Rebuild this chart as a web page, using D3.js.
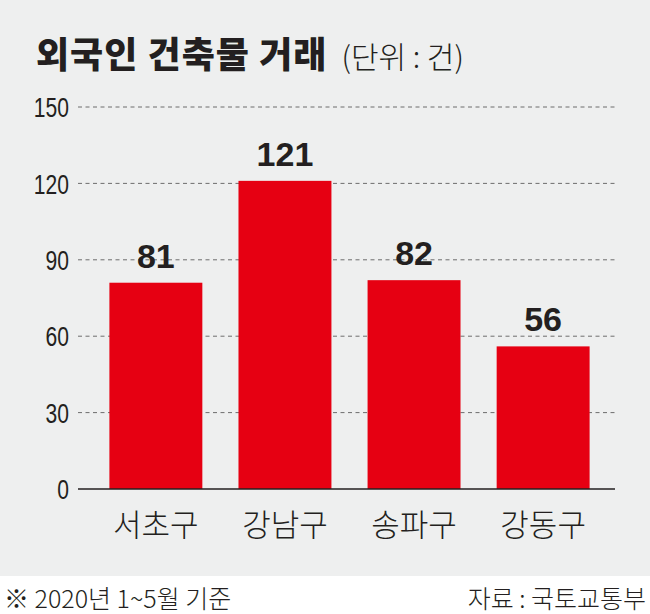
<!DOCTYPE html>
<html>
<head>
<meta charset="utf-8">
<script src="https://cdn.jsdelivr.net/npm/d3@7"></script>
<style>
  body { margin: 0; background: #fff; }
  svg text { font-family: "Liberation Sans", "Noto Sans CJK KR", sans-serif; }
  svg text.kr { font-family: "Noto Sans CJK KR", sans-serif; }
</style>
</head>
<body>
<div id="chart"></div>
<script>
// DATA
const districts = ['서초구', '강남구', '송파구', '강동구'];
const deals = [81, 121, 82, 56];
const yTicks = [0, 30, 60, 90, 120, 150];

// DIMENSIONS
const width = 650, height = 614;
const margin = {top: 107, right: 35, bottom: 125, left: 78};
const squeeze = 0.78; // narrow tick numerals

const svg = d3.select('#chart')
  .append('svg')
  .attr('width', width)
  .attr('height', height);

// GRAY PANEL
svg.append('rect')
  .attr('width', width)
  .attr('height', 576)
  .attr('fill', '#eeefef');

// SCALES
const x = d3.scaleBand()
  .domain(districts)
  .range([margin.left + 3, width - margin.right + 3])
  .paddingInner(0.28)
  .paddingOuter(0.22);

const y = d3.scaleLinear()
  .domain([0, 150])
  .range([height - margin.bottom, margin.top]);

// Y AXIS LABELS
const yAxis = svg.append('g')
  .attr('transform', `translate(${margin.left},0)`)
  .call(d3.axisLeft(y).tickValues(yTicks).tickSize(0).tickPadding(9));
yAxis.select('.domain').remove();
yAxis.selectAll('text')
  .attr('font-size', 27)
  .attr('fill', '#231f20')
  .attr('dy', '0.36em')
  .attr('x', -9 / squeeze)
  .attr('transform', `scale(${squeeze},1)`);

// GRID
svg.append('g')
  .selectAll('line')
  .data(yTicks.filter(d => d > 0))
  .join('line')
  .attr('x1', margin.left)
  .attr('x2', width - margin.right)
  .attr('y1', d => y(d))
  .attr('y2', d => y(d))
  .attr('stroke', '#6d6d6d')
  .attr('stroke-width', 1)
  .attr('stroke-dasharray', '4,3.5');

// BARS
svg.append('g')
  .selectAll('rect')
  .data(deals)
  .join('rect')
  .attr('x', (d, i) => x(districts[i]))
  .attr('y', d => y(d))
  .attr('width', x.bandwidth())
  .attr('height', d => y(0) - y(d))
  .attr('fill', '#e60012');

// BASELINE
svg.append('line')
  .attr('x1', margin.left)
  .attr('x2', width - margin.right)
  .attr('y1', y(0))
  .attr('y2', y(0))
  .attr('stroke', '#231f20')
  .attr('stroke-width', 1.5);

// VALUE LABELS
svg.append('g')
  .selectAll('text')
  .data(deals)
  .join('text')
  .attr('x', (d, i) => x(districts[i]) + x.bandwidth() / 2)
  .attr('y', d => y(d) - 15)
  .attr('text-anchor', 'middle')
  .attr('font-size', 34)
  .attr('font-weight', 'bold')
  .attr('fill', '#231f20')
  .text(d => d);

// X LABELS
svg.append('g')
  .selectAll('text')
  .data(districts)
  .join('text')
  .attr('class', 'kr')
  .attr('x', d => x(d) + x.bandwidth() / 2)
  .attr('y', 536)
  .attr('text-anchor', 'middle')
  .attr('font-size', 31)
  .attr('font-weight', 300)
  .attr('fill', '#231f20')
  .text(d => d);

// TITLE
const title = svg.append('text')
  .attr('x', 36)
  .attr('y', 68)
  .attr('fill', '#231f20');
title.append('tspan')
  .attr('class', 'kr')
  .style('font-family', '"Noto Sans CJK KR", sans-serif')
  .attr('font-size', 36)
  .attr('font-weight', 900)
  .attr('letter-spacing', 1)
  .text('외국인 건축물 거래');
title.append('tspan')
  .style('font-family', '"Noto Sans CJK KR", sans-serif')
  .attr('font-size', 30)
  .attr('font-weight', 300)
  .attr('dx', 14)
  .text('(단위 : 건)');

// FOOTER
svg.append('text')
  .attr('class', 'kr')
  .attr('x', 4)
  .attr('y', 608)
  .attr('font-size', 25)
  .attr('font-weight', 300)
  .attr('fill', '#231f20')
  .text('※ 2020년 1~5월 기준');

svg.append('text')
  .attr('class', 'kr')
  .attr('x', 646)
  .attr('y', 608)
  .attr('text-anchor', 'end')
  .attr('font-size', 25)
  .attr('font-weight', 300)
  .attr('fill', '#231f20')
  .text('자료 : 국토교통부');
</script>
</body>
</html>
